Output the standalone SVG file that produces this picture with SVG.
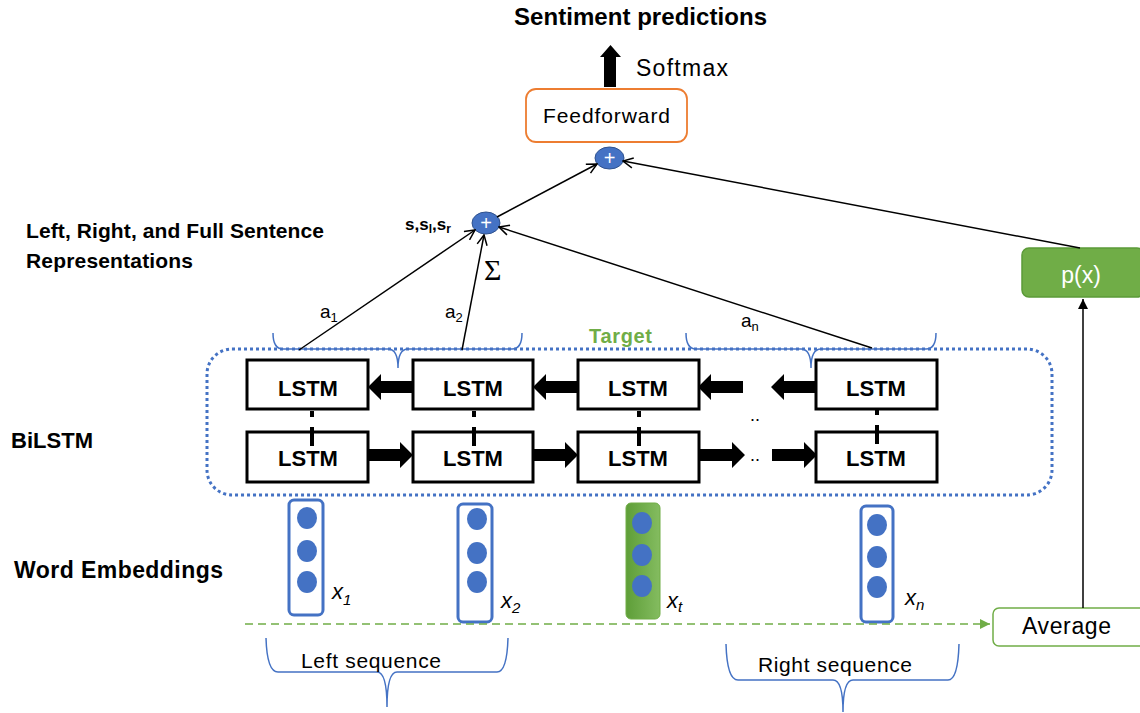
<svg xmlns="http://www.w3.org/2000/svg" width="1140" height="713" viewBox="0 0 1140 713">
  <style>
    .sans { font-family: "Liberation Sans", Arial, sans-serif; fill: #000; }
    .bold { font-weight: bold; }
    .head { font-family: "Liberation Sans", Arial, sans-serif; font-weight: bold; fill: #000; }
    .lstm rect { fill: #fff; stroke: #000; stroke-width: 3; }
    .lstm text { font-family: "Liberation Sans", Arial, sans-serif; font-weight: bold; font-size: 22px; text-anchor: middle; }
    .plus ellipse { fill: #4472C4; stroke: #2F528F; stroke-width: 1; }
    .plus text { font-family: "Liberation Sans", Arial, sans-serif; font-size: 20px; fill: #fff; text-anchor: middle; }
    .emb rect { fill: #fff; stroke: #4472C4; stroke-width: 3; }
    .emb ellipse { fill: #4472C4; }
    .xlab { font-family: "Liberation Sans", Arial, sans-serif; font-style: italic; font-size: 22px; }
    .xsub { font-size: 15px; }
    .brace { fill: none; stroke: #4472C4; stroke-width: 1.5; }
    .attn { fill: none; stroke: #000; stroke-width: 1.5; marker-end: url(#openHead); }
    .vlink { stroke: #000; stroke-width: 4; }
    .alab { font-family: "Liberation Sans", Arial, sans-serif; font-size: 19px; }
    .asub { font-size: 13px; }
  </style>
  <defs>
    <marker id="openHead" viewBox="0 0 12 12" refX="11" refY="6" markerWidth="12" markerHeight="12" markerUnits="userSpaceOnUse" orient="auto">
      <path d="M1,1 L11,6 L1,11" fill="none" stroke="#000" stroke-width="1.5"/>
    </marker>
    <marker id="greenHead" viewBox="0 0 10 10" refX="10" refY="5" markerWidth="10" markerHeight="10" markerUnits="userSpaceOnUse" orient="auto">
      <path d="M0,0 L10,5 L0,10 Z" fill="#70AD47"/>
    </marker>
    <marker id="blackHead" viewBox="0 0 10 10" refX="10" refY="5" markerWidth="10" markerHeight="10" markerUnits="userSpaceOnUse" orient="auto">
      <path d="M0,0 L10,5 L0,10 Z" fill="#000"/>
    </marker>
    <!-- thick block arrow, 45 px long, pointing right from the origin -->
    <path id="blockArrow" d="M0,-6 H32 V-13 L45,0 L32,13 V6 H0 Z" fill="#000"/>
    <linearGradient id="greenFill" x1="0" y1="0" x2="1" y2="0">
      <stop offset="0" stop-color="#5E9E38"/>
      <stop offset="1" stop-color="#84BC60"/>
    </linearGradient>
  </defs>

  <!-- output -->
  <g id="title">
    <text class="head" x="514" y="25" font-size="24" textLength="253">Sentiment predictions</text>
  </g>
  <g id="softmax">
    <path d="M604,87 V57 H600 L610.5,45 L621,57 H616 V87 Z" fill="#000"/>
    <text class="sans" x="636" y="76" font-size="23" textLength="92">Softmax</text>
  </g>
  <g id="feedforward">
    <rect x="526" y="89" width="161" height="53" rx="10" fill="#fff" stroke="#ED7D31" stroke-width="1.8"/>
    <text class="sans" x="606.5" y="123" font-size="21" text-anchor="middle" textLength="127">Feedforward</text>
  </g>
  <g id="sumTop" class="plus">
    <ellipse cx="609.5" cy="158" rx="14.5" ry="11"/>
    <text x="609.5" y="165">+</text>
  </g>
  <g id="sumRep" class="plus">
    <ellipse cx="486" cy="223" rx="14" ry="11"/>
    <text x="486" y="230">+</text>
  </g>
  <g id="repLabel">
    <text class="sans bold" x="405" y="230" font-size="17">s,s<tspan font-size="12" dy="3">l</tspan><tspan dy="-3">,s</tspan><tspan font-size="12" dy="3">r</tspan></text>
  </g>
  <g id="sigma">
    <text x="484" y="280" font-family="'Liberation Serif', 'DejaVu Serif', serif" font-size="30">Σ</text>
  </g>

  <!-- row labels -->
  <g id="rowLabels">
    <text class="head" x="26" y="238" font-size="21" textLength="298">Left, Right, and Full Sentence</text>
    <text class="head" x="26" y="268" font-size="21" textLength="167">Representations</text>
    <text class="head" x="11" y="448" font-size="22" textLength="82">BiLSTM</text>
    <text class="head" x="14" y="578" font-size="23" textLength="209">Word Embeddings</text>
  </g>

  <!-- BiLSTM container -->
  <g id="bilstm">
    <rect x="207" y="349" width="845" height="146" rx="25" fill="none" stroke="#4472C4" stroke-width="3" stroke-dasharray="3 3"/>
  </g>
  <g id="target">
    <text class="sans bold" x="589" y="343" font-size="20" style="fill:#70AD47" textLength="63">Target</text>
  </g>

  <!-- attention span braces -->
  <g id="attnBraces">
    <path class="brace" d="M273,333 Q273,349 283,349 L388,349 Q398,349 398,368 Q398,349 408,349 L512,349 Q522,349 522,333"/>
    <path class="brace" d="M686,333 Q686,349 696,349 L801,349 Q811,349 811,368 Q811,349 821,349 L926,349 Q936,349 936,333"/>
  </g>

  <!-- LSTM cells -->
  <g id="lstmB1" class="lstm"><rect x="247" y="360" width="121" height="49"/><text x="308" y="396">LSTM</text></g>
  <g id="lstmB2" class="lstm"><rect x="413" y="360" width="120" height="49"/><text x="473" y="396">LSTM</text></g>
  <g id="lstmB3" class="lstm"><rect x="578" y="360" width="121" height="49"/><text x="638" y="396">LSTM</text></g>
  <g id="lstmBn" class="lstm"><rect x="816" y="360" width="121" height="49"/><text x="876" y="396">LSTM</text></g>
  <g id="lstmF1" class="lstm"><rect x="247" y="432" width="121" height="50"/><text x="308" y="466">LSTM</text></g>
  <g id="lstmF2" class="lstm"><rect x="413" y="432" width="120" height="50"/><text x="473" y="466">LSTM</text></g>
  <g id="lstmF3" class="lstm"><rect x="578" y="432" width="121" height="50"/><text x="638" y="466">LSTM</text></g>
  <g id="lstmFn" class="lstm"><rect x="816" y="432" width="121" height="50"/><text x="876" y="466">LSTM</text></g>

  <!-- ellipsis between cells -->
  <g id="gapDots">
    <text class="sans" x="750" y="421" font-size="18">..</text>
    <text class="sans" x="750" y="461" font-size="18">..</text>
  </g>

  <!-- word embeddings -->
  <g id="emb1" class="emb">
    <rect x="289" y="500" width="34" height="115" rx="5"/>
    <ellipse cx="307" cy="518" rx="10" ry="11"/><ellipse cx="307" cy="551" rx="10" ry="11"/><ellipse cx="307" cy="582" rx="10" ry="11"/>
    <text class="xlab" x="332" y="599">x<tspan class="xsub" dy="6">1</tspan></text>
  </g>
  <g id="emb2" class="emb">
    <rect x="458" y="504" width="34" height="118" rx="5"/>
    <ellipse cx="477" cy="519" rx="10" ry="11"/><ellipse cx="477" cy="553" rx="10" ry="11"/><ellipse cx="477" cy="582" rx="10" ry="11"/>
    <text class="xlab" x="501" y="608">x<tspan class="xsub" dy="5">2</tspan></text>
  </g>
  <g id="embT" class="emb">
    <rect x="626" y="503" width="34" height="116" rx="5" style="fill:url(#greenFill);stroke:#70AD47;stroke-width:1"/>
    <ellipse cx="642" cy="523" rx="10" ry="11"/><ellipse cx="642" cy="555" rx="10" ry="11"/><ellipse cx="642" cy="586" rx="10" ry="11"/>
    <text class="xlab" x="667" y="608">x<tspan class="xsub" dy="4">t</tspan></text>
  </g>
  <g id="embN" class="emb">
    <rect x="861" y="506" width="32" height="116" rx="5"/>
    <ellipse cx="877" cy="525" rx="10" ry="11"/><ellipse cx="877" cy="557" rx="10" ry="11"/><ellipse cx="877" cy="587" rx="10" ry="11"/>
    <text class="xlab" x="905" y="605">x<tspan class="xsub" dy="5">n</tspan></text>
  </g>

  <!-- sequence braces -->
  <g id="leftSeq">
    <path class="brace" d="M266,638 Q267,672 278,672 L377,672 Q387,672 387,707 Q387,672 397,672 L497,672 Q507,672 508,638"/>
    <text class="sans" x="301" y="668" font-size="21" textLength="140">Left sequence</text>
  </g>
  <g id="rightSeq">
    <path class="brace" d="M726,644 Q727,680 738,680 L833,680 Q843,680 843,712 Q843,680 853,680 L948,680 Q958,680 959,644"/>
    <text class="sans" x="758" y="672" font-size="21" textLength="154">Right sequence</text>
  </g>

  <!-- average and prior -->
  <g id="average">
    <rect x="993" y="608" width="152" height="38" rx="6" fill="#fff" stroke="#70AD47" stroke-width="1.5"/>
    <text class="sans" x="1022" y="634" font-size="23" textLength="89">Average</text>
  </g>
  <g id="px">
    <rect x="1022" y="248" width="122" height="49" rx="7" fill="#70AD47" stroke="#5B9A38" stroke-width="1.5"/>
    <text class="sans" x="1081" y="283" font-size="23" text-anchor="middle" style="fill:#fff">p(x)</text>
  </g>

  <!-- connectors -->
  <g id="connectors">
    <!-- backward LSTM arrows (right to left) -->
    <use href="#blockArrow" transform="translate(413,387) scale(-1,1)"/>
    <use href="#blockArrow" transform="translate(578,387) scale(-1,1)"/>
    <use href="#blockArrow" transform="translate(743,387) scale(-1,1)"/>
    <use href="#blockArrow" transform="translate(816,387) scale(-1,1)"/>
    <!-- forward LSTM arrows (left to right) -->
    <use href="#blockArrow" transform="translate(368,455)"/>
    <use href="#blockArrow" transform="translate(533,455)"/>
    <use href="#blockArrow" transform="translate(700,455)"/>
    <use href="#blockArrow" transform="translate(772,455)"/>
    <!-- links between the two directions -->
    <path class="vlink" d="M312,411 V417 M312,427 V446 M474,411 V417 M474,427 V446 M639,411 V417 M639,427 V446 M877,410 V415 M877,425 V444"/>
    <!-- attention weights -->
    <path class="attn" d="M299,350 L475,230"/>
    <path class="attn" d="M462,350 L484,235"/>
    <path class="attn" d="M872,348 L499,227"/>
    <path class="attn" d="M497,217 L597,164"/>
    <path class="attn" d="M1080,248 L623,161"/>
    <!-- averaging path -->
    <path d="M245,624 H990" fill="none" stroke="#70AD47" stroke-width="1.5" stroke-dasharray="8 5" marker-end="url(#greenHead)"/>
    <path d="M1083,608 V299" fill="none" stroke="#000" stroke-width="1.5" marker-end="url(#blackHead)"/>
  </g>
  <g id="attnLabels">
    <text class="alab" x="320" y="318">a<tspan class="asub" dy="4">1</tspan></text>
    <text class="alab" x="445" y="318">a<tspan class="asub" dy="4">2</tspan></text>
    <text class="alab" x="741" y="327">a<tspan class="asub" dy="4">n</tspan></text>
  </g>
</svg>
